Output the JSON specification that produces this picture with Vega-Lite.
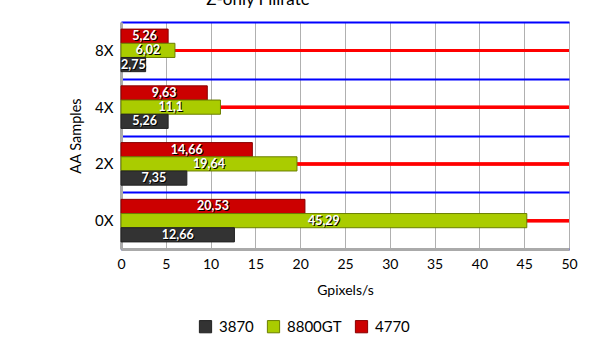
{
  "$schema": "https://vega.github.io/schema/vega-lite/v6.json",
  "width": 448,
  "height": 227,
  "autosize": "none",
  "padding": {"left": 121, "top": 22, "right": 36, "bottom": 110},
  "background": "white",
  "config": {
    "font": "Lato",
    "view": {"stroke": "#aaaaaa", "strokeWidth": 1},
    "axis": {"labelFont": "Lato", "titleFont": "Lato", "labelColor": "#000", "titleColor": "#000", "titleFontWeight": "normal"}
  },
  "title": {"text": "Z-only Fillrate", "fontSize": 17, "font": "Lato", "fontWeight": "normal", "anchor": "middle", "dx": -87, "offset": 6, "color": "#000"},
  "data": {"values": [
    {"aa": "8X", "card": "4770", "value": 5.26, "label": "5,26"},
    {"aa": "8X", "card": "8800GT", "value": 6.02, "label": "6,02"},
    {"aa": "8X", "card": "3870", "value": 2.75, "label": "2,75"},
    {"aa": "4X", "card": "4770", "value": 9.63, "label": "9,63"},
    {"aa": "4X", "card": "8800GT", "value": 11.1, "label": "11,1"},
    {"aa": "4X", "card": "3870", "value": 5.26, "label": "5,26"},
    {"aa": "2X", "card": "4770", "value": 14.66, "label": "14,66"},
    {"aa": "2X", "card": "8800GT", "value": 19.64, "label": "19,64"},
    {"aa": "2X", "card": "3870", "value": 7.35, "label": "7,35"},
    {"aa": "0X", "card": "4770", "value": 20.53, "label": "20,53"},
    {"aa": "0X", "card": "8800GT", "value": 45.29, "label": "45,29"},
    {"aa": "0X", "card": "3870", "value": 12.66, "label": "12,66"}
  ]},
  "layer": [
    {
      "mark": {"type": "rule", "color": "#ff0000", "strokeWidth": 3},
      "encoding": {
        "y": {"field": "aa", "type": "nominal", "sort": ["8X", "4X", "2X", "0X"]}
      }
    },
    {
      "mark": {"type": "bar", "strokeWidth": 1},
      "encoding": {
        "y": {"field": "aa", "type": "nominal", "sort": ["8X", "4X", "2X", "0X"],
          "scale": {"paddingInner": 0, "paddingOuter": 0},
          "axis": {"title": "AA Samples", "titleFontSize": 14.5, "labelFontSize": 15, "labelPadding": 8, "ticks": false, "tickBand": "extent", "grid": true, "gridColor": "#0000ff", "gridWidth": 2, "domainColor": "#aaaaaa", "domainWidth": 3, "titlePadding": 11}},
        "yOffset": {"field": "card", "type": "nominal", "sort": ["4770", "8800GT", "3870"], "scale": {"paddingInner": 0, "paddingOuter": 0.5}},
        "x": {"field": "value", "type": "quantitative",
          "scale": {"domain": [0, 50], "nice": false},
          "axis": {"title": "Gpixels/s", "titleFontSize": 14, "labelFontSize": 14, "values": [0,5,10,15,20,25,30,35,40,45,50], "labelOverlap": false, "ticks": false, "grid": true, "gridColor": "#b0b0b0", "domainColor": "#aaaaaa", "domainWidth": 3, "labelPadding": 8, "titlePadding": 12, "labelFlush": false}},
        "color": {"field": "card", "type": "nominal",
          "scale": {"domain": ["3870", "8800GT", "4770"], "range": ["#333333", "#aacc00", "#cc0000"]},
          "legend": {"orient": "none", "legendX": 77, "legendY": 297, "direction": "horizontal", "title": null, "symbolType": "square", "symbolSize": 150, "symbolStrokeColor": "#888888", "symbolStrokeWidth": 1, "labelFontSize": 15, "labelFont": "Lato", "columnPadding": 11, "labelOffset": 6, "symbolOpacity": 1}},
        "stroke": {"field": "card", "type": "nominal",
          "scale": {"domain": ["3870", "8800GT", "4770"], "range": ["#222222", "#6b7f00", "#880000"]},
          "legend": null}
      }
    },
    {
      "mark": {"type": "text", "color": "#000000", "fontSize": 12.5, "fontWeight": "bold", "dx": 1, "dy": 1, "align": "center", "baseline": "middle"},
      "encoding": {
        "y": {"field": "aa", "type": "nominal", "sort": ["8X", "4X", "2X", "0X"]},
        "yOffset": {"field": "card", "type": "nominal", "sort": ["4770", "8800GT", "3870"]},
        "x": {"field": "value", "type": "quantitative", "scale": {"domain": [0, 100], "nice": false}, "axis": null},
        "text": {"field": "label"}
      }
    },
    {
      "mark": {"type": "text", "color": "#ffffff", "fontSize": 12.5, "fontWeight": "bold", "align": "center", "baseline": "middle"},
      "encoding": {
        "y": {"field": "aa", "type": "nominal", "sort": ["8X", "4X", "2X", "0X"]},
        "yOffset": {"field": "card", "type": "nominal", "sort": ["4770", "8800GT", "3870"]},
        "x": {"field": "value", "type": "quantitative", "scale": {"domain": [0, 100], "nice": false}, "axis": null},
        "text": {"field": "label"}
      }
    }
  ],
  "resolve": {"scale": {"x": "independent"}}
}
